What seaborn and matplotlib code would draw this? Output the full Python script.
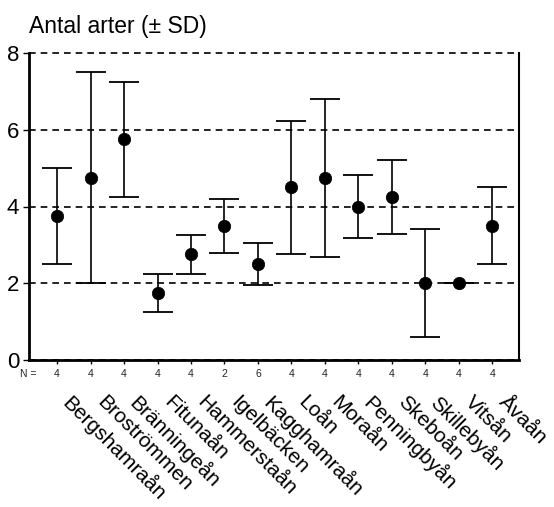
import matplotlib
matplotlib.use("Agg")
import matplotlib.pyplot as plt
import matplotlib.transforms as mtransforms
import seaborn as sns
import pandas as pd

sites = ["Bergshamraån", "Broströmmen", "Bränningeån", "Fitunaån", "Hammerstaån",
         "Igelbäcken", "Kagghamraån", "Loån", "Moraån", "Penningbyån",
         "Skeboån", "Skillebyån", "Vitsån", "Åvaån"]
means = [3.75, 4.75, 5.75, 1.75, 2.75, 3.5, 2.5, 4.5, 4.75, 4.0, 4.25, 2.0, 2.0, 3.5]
sds = [1.25, 2.75, 1.5, 0.5, 0.5, 0.7, 0.55, 1.73, 2.06, 0.82, 0.96, 1.41, 0.0, 1.0]
ns = [4, 4, 4, 4, 4, 2, 6, 4, 4, 4, 4, 4, 4, 4]
yticks = [0, 2, 4, 6, 8]

df = pd.DataFrame({"site": sites, "mean": means, "sd": sds, "n": ns})

sns.set_style("white")
plt.rcParams["font.family"] = ["Liberation Sans", "DejaVu Sans"]
plt.rcParams["text.color"] = "black"
plt.rcParams["xtick.color"] = "black"
plt.rcParams["ytick.color"] = "black"

fig = plt.figure(figsize=(5.54, 5.07), dpi=100)
ax = fig.add_axes([29 / 554, 1 - 360 / 507, 490 / 554, 307 / 507])

pos = list(range(len(sites)))
ax.errorbar(pos, df["mean"], yerr=df["sd"], fmt="none", ecolor="black",
            elinewidth=1.2, capsize=11, capthick=1.3, zorder=3)
sns.scatterplot(data=df, x="site", y="mean", ax=ax, color="black", s=80,
                edgecolor="black", linewidth=0.5, zorder=4, legend=False)

ax.set_xlim(-0.84, 13.8)
ax.set_ylim(0, 8)
ax.set_yticks(yticks)
ax.set_yticklabels([str(t) for t in yticks], fontsize=16, color="black")
ax.set_xticks(pos)
ax.set_xticklabels(sites, rotation=-45, ha="left", va="top",
                   rotation_mode="anchor", fontsize=15, color="black")
ax.set_xlabel("")
ax.set_ylabel("")

ax.grid(axis="y", color="black", linestyle=(0, (4, 3)), linewidth=1.2)
ax.grid(axis="x", visible=False)
for gl in ax.get_ygridlines():
    gl.set_clip_on(False)
ax.set_axisbelow(True)

ax.spines["top"].set_visible(False)
ax.spines["left"].set_linewidth(2)
ax.spines["bottom"].set_linewidth(2)
ax.spines["right"].set_linewidth(1.5)
for s in ["left", "bottom", "right"]:
    ax.spines[s].set_color("black")
    ax.spines[s].set_zorder(5)

ax.tick_params(axis="y", left=True, length=4, width=1, color="black", pad=3)
ax.tick_params(axis="x", bottom=True, length=3, width=1, color="black", pad=26)

shift = mtransforms.ScaledTranslation(0.16, 0.08, fig.dpi_scale_trans)
for lab in ax.get_xticklabels():
    lab.set_transform(lab.get_transform() + shift)

trans = mtransforms.blended_transform_factory(ax.transData, ax.transAxes)
for i, n in enumerate(df["n"]):
    ax.text(i, -0.045, str(n), transform=trans, ha="center", va="center",
            fontsize=7.5, color="#222222")
ax.text(0.016, -0.045, "N =", transform=ax.transAxes, ha="right", va="center",
        fontsize=7.5, color="#222222")

fig.text(29 / 554, 1 - 27 / 507, "Antal arter (± SD)", ha="left", va="center",
         fontsize=16.5, color="black")

fig.savefig("out.png", dpi=100)
